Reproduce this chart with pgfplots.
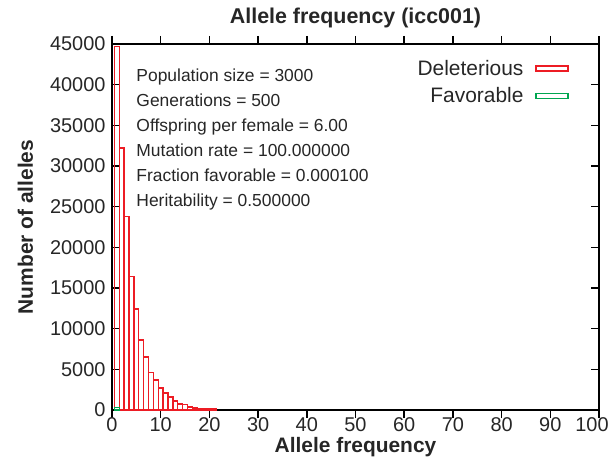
\documentclass[border=0pt]{standalone}
\usepackage{pgfplots}
\pgfplotsset{compat=1.18}
\usepackage{fontspec}
\setmainfont{Liberation Sans}
\definecolor{delred}{RGB}{237,28,36}
\definecolor{favgreen}{RGB}{0,166,80}

\begin{document}
\begin{tikzpicture}
\begin{axis}[
    at={(0bp,0bp)}, anchor=south west,
    width=487bp, height=366bp, scale only axis,
    xmin=0, xmax=100, ymin=0, ymax=45000,
    xtick={0,10,...,100},
    xticklabels={0,10,20,30,40,50,60,70,80,90,{\hspace*{-14bp}100}},
    ytick={0,5000,...,45000},
    tick align=inside,
    major tick length=8bp,
    axis line style={line width=1.6bp},
    every tick/.style={line width=1.6bp, black},
    /pgf/number format/assume math mode=true,
    /pgf/number format/set thousands separator={},
    scaled y ticks=false,
    tick label style={font=\fontsize{20}{24}\selectfont, text=black!85},
    xticklabel style={yshift=4bp},
    yticklabel style={xshift=-3bp},
    title={\textbf{Allele frequency (icc001)}},
    title style={at={(axis description cs:0.5,1.055)}, anchor=center, yshift=0pt,
        font=\fontsize{21.5}{25}\selectfont, text=black!85},
    xlabel={\textbf{Allele frequency}},
    xlabel style={at={(axis description cs:0.5,-0.101)}, anchor=center,
        font=\fontsize{21}{25}\selectfont, text=black!85},
    ylabel={\textbf{Number of alleles}},
    ylabel style={at={(axis description cs:-0.178,0.5)}, anchor=center,
        font=\fontsize{21}{25}\selectfont, text=black!85},
    ybar, bar width=1, bar shift=0,
    legend style={at={(axis description cs:0.945,0.968)}, anchor=north east,
        draw=none, fill=none, font=\fontsize{21}{25}\selectfont,
        text=black!85, row sep=7bp, column sep=10bp},
    legend cell align=right,
    legend plot pos=right,
    legend image code/.code={\draw[#1, fill=none, line width=1.6bp] (0bp,-2.5bp) rectangle (32bp,2.5bp);},
]
% Deleterious
\addplot[draw=delred, fill=none, line width=1.4bp] coordinates {
    (1,44700) (2,32200) (3,23800) (4,16400) (5,12400) (6,8600) (7,6500)
    (8,4600) (9,3700) (10,2700) (11,2100) (12,1600) (13,1100) (14,750)
    (15,650) (16,350) (17,230) (18,160) (19,150) (20,140) (21,130)
};
\addlegendentry{Deleterious}
% Favorable
\addplot[draw=favgreen, fill=none, line width=1.4bp] coordinates {
    (1,300)
};
\addlegendentry{Favorable}
\node[anchor=north west, align=left, font=\fontsize{17.5}{25}\selectfont, text=black!85]
    at (axis description cs:0.043,0.941) {%
    Population size = 3000\\
    Generations = 500\\
    Offspring per female = 6.00\\
    Mutation rate = 100.000000\\
    Fraction favorable = 0.000100\\
    Heritability = 0.500000};
\end{axis}
\pgfresetboundingbox
\path[use as bounding box] (-112bp,-50bp) rectangle (500bp,410bp);
\end{tikzpicture}
\end{document}
